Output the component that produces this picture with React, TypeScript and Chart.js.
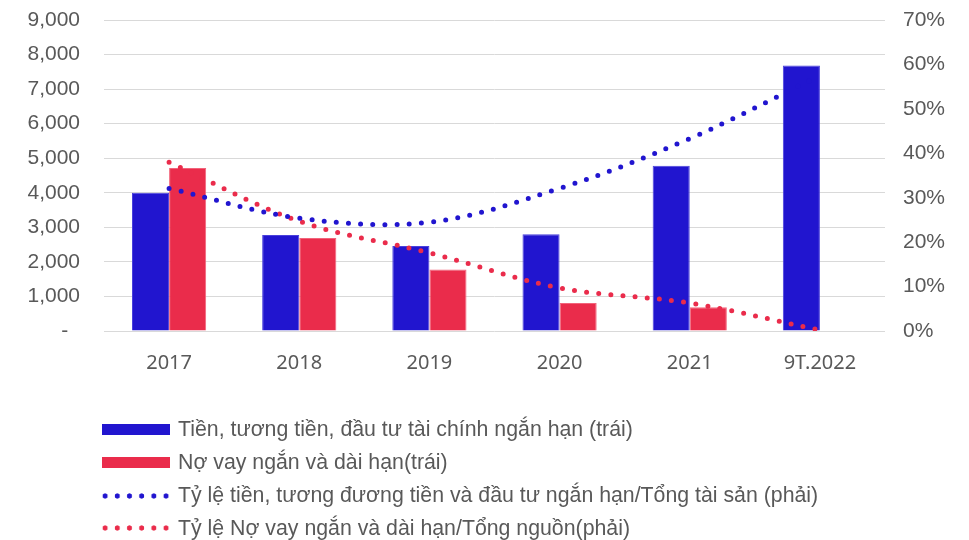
import React, { useEffect, useRef } from "react";
import { Chart, registerables } from "chart.js";

Chart.register(...registerables);

const categories = ["2017", "2018", "2019", "2020", "2021", "9T.2022"];
const cashValues = [4000, 2780, 2460, 2800, 4780, 7680];
const debtValues = [4720, 2690, 1780, 810, 690, 15];
const cashRatio = [32.1, 25.4, 24.5, 32.1, 43.3, 57.5];
const debtRatio = [38.0, 24.7, 17.6, 9.7, 6.3, 0.2];

const seriesNames = [
  "Tiền, tương tiền, đầu tư tài chính ngắn hạn (trái)",
  "Nợ vay ngắn và dài hạn(trái)",
  "Tỷ lệ tiền, tương đương tiền và đầu tư ngắn hạn/Tổng tài sản (phải)",
  "Tỷ lệ Nợ vay ngắn và dài hạn/Tổng nguồn(phải)",
];

const leftMax = 9000;
const leftStep = 1000;
const rightMax = 70;
const rightStep = 10;

const BLUE = "#2115cf";
const RED = "#ea2c4b";
const TEXT = "#595959";
const AXIS_FONT = "'Liberation Sans', Arial, sans-serif";

export default function App() {
  const ref = useRef<HTMLCanvasElement | null>(null);

  useEffect(() => {
    if (!ref.current) return;
    const chart = new Chart(ref.current, {
      type: "bar",
      data: {
        labels: categories,
        datasets: [
          {
            type: "line",
            label: seriesNames[2],
            data: cashRatio,
            yAxisID: "y1",
            borderColor: BLUE,
            borderWidth: 5,
            borderDash: [0, 12.2],
            borderCapStyle: "round",
            pointRadius: 0,
            tension: 0.35,
            fill: false,
            order: 0,
          } as any,
          {
            type: "line",
            label: seriesNames[3],
            data: debtRatio,
            yAxisID: "y1",
            borderColor: RED,
            borderWidth: 5,
            borderDash: [0, 12.2],
            borderCapStyle: "round",
            pointRadius: 0,
            tension: 0.35,
            fill: false,
            order: 0,
          } as any,
          {
            type: "bar",
            label: seriesNames[0],
            data: cashValues,
            yAxisID: "y",
            backgroundColor: BLUE,
            borderColor: "#4a40dc",
            borderWidth: 1,
            categoryPercentage: 0.57,
            barPercentage: 1,
            order: 1,
          } as any,
          {
            type: "bar",
            label: seriesNames[1],
            data: debtValues,
            yAxisID: "y",
            backgroundColor: RED,
            borderColor: "#f2637a",
            borderWidth: 1,
            categoryPercentage: 0.57,
            barPercentage: 1,
            order: 1,
          } as any,
        ],
      },
      options: {
        animation: false,
        responsive: false,
        maintainAspectRatio: false,
        layout: { padding: { top: 20, bottom: 159, left: 0, right: 0 } },
        plugins: {
          legend: { display: false },
          tooltip: { enabled: false },
        },
        scales: {
          x: {
            grid: { display: false },
            border: { display: false },
            ticks: {
              color: TEXT,
              padding: 12,
              font: { family: "'Noto Sans', sans-serif", size: 20 },
            },
            afterFit: (s: any) => {
              s.height = 50;
              s.paddingLeft = 0;
              s.paddingRight = 0;
            },
          },
          y: {
            position: "left",
            min: 0,
            max: leftMax,
            border: { display: false },
            grid: { color: "#d9d9d9", lineWidth: 1, drawTicks: false },
            ticks: {
              stepSize: leftStep,
              padding: 24,
              color: TEXT,
              font: { family: AXIS_FONT, size: 21 },
              callback: (v: any) =>
                Number(v) === 0 ? "-  " : Number(v).toLocaleString("en-US"),
            },
            afterFit: (s: any) => {
              s.width = 104;
              s.paddingTop = 0;
              s.paddingBottom = 0;
            },
          },
          y1: {
            position: "right",
            min: 0,
            max: rightMax,
            border: { display: false },
            grid: { display: false, drawTicks: false },
            ticks: {
              stepSize: rightStep,
              padding: 18,
              color: TEXT,
              font: { family: AXIS_FONT, size: 21 },
              callback: (v: any) => `${v}%`,
            },
            afterFit: (s: any) => {
              s.width = 84;
              s.paddingTop = 0;
              s.paddingBottom = 0;
            },
          },
        },
      } as any,
    });
    return () => chart.destroy();
  }, []);

  const rowCenters = [429.5, 462, 495.7, 528.3];
  const swatches = [
    { kind: "bar", color: BLUE },
    { kind: "bar", color: RED },
    { kind: "dot", color: BLUE },
    { kind: "dot", color: RED },
  ];

  return (
    <div
      style={{
        position: "absolute",
        left: 0,
        top: 0,
        width: 969,
        height: 540,
        background: "#fff",
        overflow: "hidden",
      }}
    >
      <canvas ref={ref} width={969} height={540} style={{ display: "block" }} />
      {seriesNames.map((name, i) => (
        <div
          key={i}
          style={{
            position: "absolute",
            left: 99,
            top: rowCenters[i] - 14,
            height: 28,
            display: "flex",
            alignItems: "center",
            whiteSpace: "nowrap",
            fontFamily: AXIS_FONT,
            fontSize: 21.3,
            color: TEXT,
          }}
        >
          {swatches[i].kind === "bar" ? (
            <div
              style={{
                width: 68,
                height: 11,
                marginLeft: 3,
                background: swatches[i].color,
              }}
            />
          ) : (
            <div
              style={{
                width: 71,
                height: 6,
                backgroundImage: `radial-gradient(circle, ${swatches[i].color} 2.3px, rgba(255,255,255,0) 2.9px)`,
                backgroundSize: "12.2px 6px",
                backgroundRepeat: "repeat-x",
                backgroundPosition: "0 0",
              }}
            />
          )}
          <span style={{ marginLeft: 8 }}>{name}</span>
        </div>
      ))}
    </div>
  );
}
